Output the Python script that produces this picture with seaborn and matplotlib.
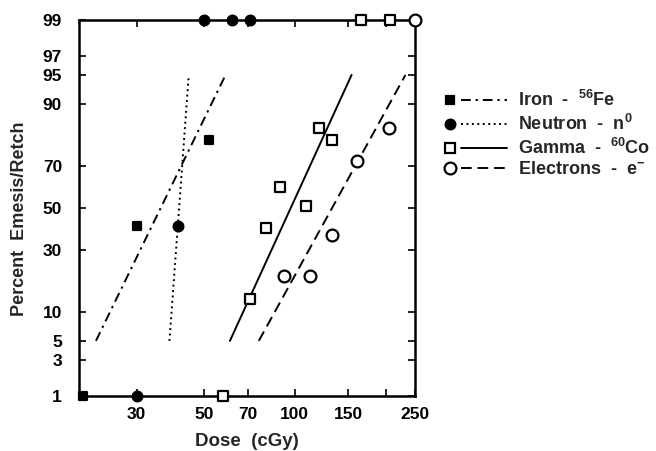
import numpy as np
import matplotlib
matplotlib.use("Agg")
import matplotlib.pyplot as plt
import seaborn as sns
from statistics import NormalDist
from matplotlib.lines import Line2D
from matplotlib.legend_handler import HandlerBase
from matplotlib.ticker import NullLocator, FixedLocator

sns.set_theme(style="ticks")
plt.rcParams['font.family'] = ['Liberation Sans', 'DejaVu Sans']
plt.rcParams['font.weight'] = 'bold'
plt.rcParams['mathtext.fontset'] = 'custom'
plt.rcParams['mathtext.rm'] = 'Liberation Sans:bold'
plt.rcParams['mathtext.default'] = 'rm'

# observed responses (percent), 0% / 100% drawn on the 1 / 99 lines
iron_dose = [20, 30, 52]
iron_pct = [1, 41, 80]
neutron_dose = [30, 41, 50, 62, 71]
neutron_pct = [1, 41, 99, 99, 99]
gamma_dose = [58, 71, 80, 89, 109, 120, 133, 165, 207]
gamma_pct = [1, 13, 40, 60, 51, 84, 80, 99, 99]
electron_dose = [92, 112, 133, 161, 205, 250]
electron_pct = [20, 20, 37, 72, 84, 99]

# probit fit lines (5% -> 95%)
fit_pct = [5, 95]
iron_fit_dose = [22, 59]
neutron_fit_dose = [38.5, 44.6]
gamma_fit_dose = [61, 154]
electron_fit_dose = [76, 232]

x_ticks = [30, 50, 70, 100, 150, 200, 250]
x_tick_labels = ["30", "50", "70", "100", "150", "", "250"]
y_ticks = [1, 3, 5, 10, 30, 50, 70, 90, 95, 97, 99]

labels = [r"Iron  -  $^{56}$Fe", r"Neutron  -  n$^{0}$",
          r"Gamma  -  $^{60}$Co", r"Electrons  -  e$^{-}$"]

nd = NormalDist()
_ppf = np.vectorize(nd.inv_cdf, otypes=[float])
_cdf = np.vectorize(nd.cdf, otypes=[float])


def probit(p):
    p = np.clip(np.asarray(p, dtype=float) / 100.0, 1e-9, 1 - 1e-9)
    return _ppf(p)


def unprobit(z):
    return _cdf(np.asarray(z, dtype=float)) * 100.0


class MarkerThenLine(HandlerBase):
    def create_artists(self, legend, orig_handle, xdescent, ydescent,
                       width, height, fontsize, trans):
        y = height / 2 - ydescent
        x0 = -xdescent
        line = Line2D([x0 + 0.95 * fontsize, x0 + width], [y, y])
        self.update_prop(line, orig_handle, legend)
        line.set_marker('None')
        mark = Line2D([x0 + 0.3 * fontsize], [y])
        self.update_prop(mark, orig_handle, legend)
        mark.set_linestyle('None')
        line.set_transform(trans)
        mark.set_transform(trans)
        return [line, mark]


fig = plt.figure(figsize=(6.56, 4.51), dpi=100)
ax = fig.add_axes([0.120, 0.122, 0.513, 0.834])
ax.set_xscale('log')
ax.set_yscale('function', functions=(probit, unprobit))

styles = {
    'iron': dict(ls=(0, (5, 2.5, 1.2, 2.5)), marker='s', ms=5.5, mfc='black'),
    'neutron': dict(ls=(0, (1, 1.8)), marker='o', ms=7, mfc='black'),
    'gamma': dict(ls='-', marker='s', ms=7, mfc='white'),
    'electron': dict(ls=(0, (5.5, 3)), marker='o', ms=8.5, mfc='white'),
}

fits = [(iron_fit_dose, 'iron'), (neutron_fit_dose, 'neutron'),
        (gamma_fit_dose, 'gamma'), (electron_fit_dose, 'electron')]
for dose, key in fits:
    sns.lineplot(x=dose, y=fit_pct, ax=ax, color='black', lw=1.4,
                 linestyle=styles[key]['ls'], sort=False, estimator=None)

points = [(iron_dose, iron_pct, 'iron'), (neutron_dose, neutron_pct, 'neutron'),
          (gamma_dose, gamma_pct, 'gamma'), (electron_dose, electron_pct, 'electron')]
for dose, pct, key in points:
    st = styles[key]
    sns.scatterplot(x=dose, y=pct, ax=ax, marker=st['marker'], s=st['ms'] ** 2,
                    color=st['mfc'], edgecolor='black', linewidth=1.6,
                    clip_on=False, zorder=5, legend=False)

ax.set_xlim(19.3, 250)
ax.set_ylim(1, 99)
ax.xaxis.set_major_locator(FixedLocator(x_ticks))
ax.xaxis.set_minor_locator(NullLocator())
ax.set_xticklabels(x_tick_labels)
ax.yaxis.set_major_locator(FixedLocator(y_ticks))
ax.yaxis.set_minor_locator(NullLocator())
ax.set_yticklabels([str(v) for v in y_ticks])
ax.tick_params(direction='in', top=True, right=True, length=5, width=1.2,
               labelsize=12.5, colors='black')
ax.tick_params(axis='y', pad=12)
ax.tick_params(axis='x', pad=8)
for sp in ax.spines.values():
    sp.set_linewidth(1.8)
    sp.set_color('black')

ax.set_xlabel("Dose  (cGy)", fontsize=13.5, fontweight='bold', labelpad=8)
ax.set_ylabel("Percent  Emesis/Retch", fontsize=13, fontweight='bold')
ax.yaxis.set_label_coords(-0.152, 0.47)

handles = []
for key in ['iron', 'neutron', 'gamma', 'electron']:
    st = styles[key]
    handles.append(Line2D([], [], color='black', lw=1.4, linestyle=st['ls'],
                          marker=st['marker'], markersize=st['ms'],
                          markerfacecolor=st['mfc'], markeredgecolor='black',
                          markeredgewidth=1.6))
fig.legend(handles, labels, loc='center left', bbox_to_anchor=(0.677, 0.702),
           frameon=False, fontsize=13, handlelength=3.5, handletextpad=0.6,
           labelspacing=0.2, borderpad=0, borderaxespad=0,
           handler_map={Line2D: MarkerThenLine()})

fig.savefig("out.png", dpi=100)
